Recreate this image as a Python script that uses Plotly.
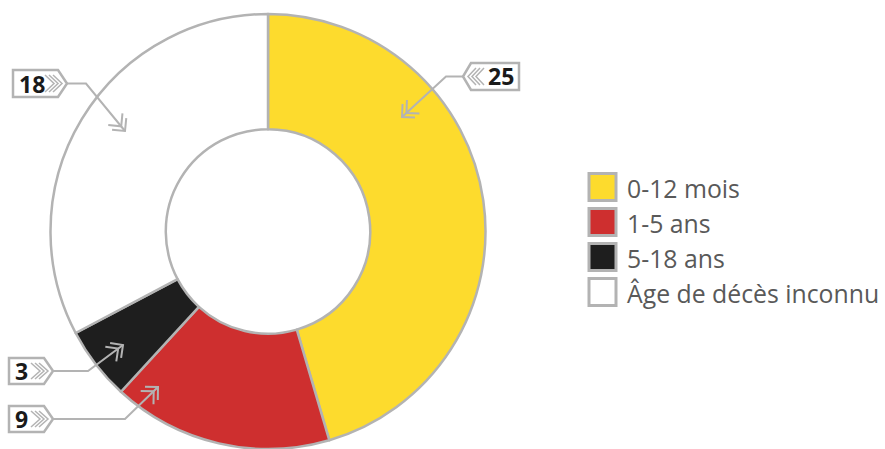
import math
import plotly.graph_objects as go

# ---- data ----
categories = ["0-12 mois", "1-5 ans", "5-18 ans", "Âge de décès inconnu"]
values = [25, 9, 3, 18]
colors = ["#FDDB2D", "#CE2F2F", "#1E1E1E", "#FFFFFF"]

W, H = 885, 449
GREY = "#B3B3B3"


def X(x):
    return x / W


def Y(y):
    return 1 - y / H


fig = go.Figure(
    go.Pie(
        labels=categories,
        values=values,
        sort=False,
        direction="clockwise",
        rotation=0,
        hole=0.47,
        marker=dict(colors=colors, line=dict(color=GREY, width=2.5)),
        textinfo="none",
        hoverinfo="label+value",
        domain=dict(x=[0, 536 / W], y=[0, 1 - 14 / H]),
        showlegend=False,
    )
)

shapes = []
annotations = []


def path(points, color=GREY, width=2, closed=False, fill=None):
    d = "M " + " L ".join(f"{X(px):.5f},{Y(py):.5f}" for px, py in points)
    if closed:
        d += " Z"
    shp = dict(type="path", xref="paper", yref="paper", path=d,
               line=dict(color=color, width=width), layer="above")
    if fill:
        shp["fillcolor"] = fill
    shapes.append(shp)


# callout layout: (slice index, rect left, rect right, top, bottom, tip side, tip x, connector pts, text center x)
callouts = [
    (3, 13, 58, 70, 97, "right", 67, [(86, 83.5), (125, 131)], 32),
    (0, 471, 519, 63, 90, "left", 463, [(446, 76.5), (402, 117)], 501),
    (2, 9, 44, 358, 384, "right", 53, [(88, 371), (123, 345)], 21),
    (1, 9, 44, 406, 432, "right", 53, [(125, 419), (158, 387)], 21),
]

for idx, xl, xr, top, bot, side, tipx, conn, tcx in callouts:
    mid = (top + bot) / 2
    if side == "right":
        box = [(xl, top), (xr, top), (tipx, mid), (xr, bot), (xl, bot)]
        feathers = [xr - 13, xr - 9, xr - 5]
        depth = tipx - xr
    else:
        box = [(xr, top), (xl, top), (tipx, mid), (xl, bot), (xr, bot)]
        feathers = [xl + 13, xl + 9, xl + 5]
        depth = tipx - xl
    path(box, width=2.5, closed=True, fill="white")
    for fx in feathers:
        path([(fx, top + 5), (fx + depth, mid), (fx, bot - 5)], width=1.5)
    pts = [(tipx, mid)] + conn
    path(pts, width=2)
    # double chevron arrowhead
    (ax, ay), (bx, by) = conn[-2], conn[-1]
    L = math.hypot(bx - ax, by - ay)
    ux, uy = (bx - ax) / L, (by - ay) / L
    for off in (0, 6):
        tx, ty = bx - ux * off, by - uy * off
        arms = []
        for ang in (math.pi / 4, -math.pi / 4):
            c, s = math.cos(ang), math.sin(ang)
            rx, ry = -(ux * c - uy * s), -(ux * s + uy * c)
            arms.append((tx + rx * 13, ty + ry * 13))
        path([arms[0], (tx, ty), arms[1]], width=2)
    annotations.append(dict(
        x=X(tcx), y=Y(mid), xref="paper", yref="paper",
        text=f"<b>{values[idx]}</b>", showarrow=False,
        xanchor="center", yanchor="middle",
        font=dict(family="Open Sans", size=23, color="#1A1A1A"),
    ))

# legend (drawn manually to match the large square swatches)
row_y = [187, 222, 257, 292]
for cat, col, cy in zip(categories, colors, row_y):
    shapes.append(dict(type="rect", xref="paper", yref="paper",
                       x0=X(589), x1=X(616), y0=Y(cy - 13.5), y1=Y(cy + 13.5),
                       line=dict(color=GREY, width=3), fillcolor=col, layer="above"))
    annotations.append(dict(
        x=X(625), y=Y(cy + 1), xref="paper", yref="paper", text=cat,
        showarrow=False, xanchor="left", yanchor="middle",
        font=dict(family="Open Sans", size=24.8, color="#595959"),
    ))

fig.update_layout(
    width=W, height=H,
    margin=dict(l=0, r=0, t=0, b=0),
    paper_bgcolor="white", plot_bgcolor="white",
    shapes=shapes, annotations=annotations,
    showlegend=False,
)

fig.write_html(
    "out.html",
    config={"displayModeBar": False},
    post_script="document.body.style.margin='0';document.body.style.overflow='hidden';",
)
